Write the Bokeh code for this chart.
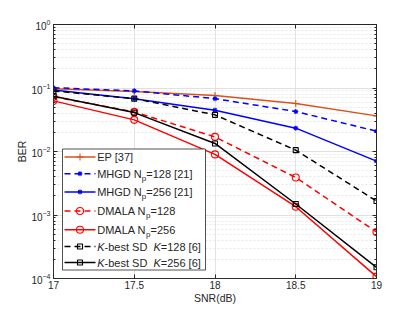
from bokeh.plotting import figure
from bokeh.models import (Range1d, LinearScale, LinearAxis, LogAxis, FixedTicker,
                          LogTicker, ColumnDataSource)
from bokeh.core.properties import value
from bokeh.embed import file_html
from bokeh.resources import INLINE

# ---------------- data ----------------
snr = [17, 17.5, 18, 18.5, 19]
ber_ep = [0.097, 0.088, 0.076, 0.057, 0.0364]
ber_mhgd128 = [0.101, 0.090, 0.068, 0.0426, 0.0209]
ber_mhgd256 = [0.093, 0.068, 0.0447, 0.0233, 0.00706]
ber_dmala128 = [0.073, 0.042, 0.017, 0.0039, 0.00054]
ber_dmala256 = [0.0627, 0.0315, 0.009, 0.00135, 0.000107]
ber_kbest128 = [0.090, 0.068, 0.0378, 0.0105, 0.00166]
ber_kbest256 = [0.074, 0.041, 0.0134, 0.00149, 0.00015]

x_ticks = [17, 17.5, 18, 18.5, 19]
x_tick_labels = ["17", "17.5", "18", "18.5", "19"]

legend_labels = [
    [("EP [37]", "n")],
    [("MHGD N", "n"), ("p", "sub"), ("=128 [21]", "n")],
    [("MHGD N", "n"), ("p", "sub"), ("=256 [21]", "n")],
    [("DMALA N", "n"), ("p", "sub"), ("=128", "n")],
    [("DMALA N", "n"), ("p", "sub"), ("=256", "n")],
    [("K", "it"), ("-best SD  ", "n"), ("K", "it"), ("=128 [6]", "n")],
    [("K", "it"), ("-best SD  ", "n"), ("K", "it"), ("=256 [6]", "n")],
]

# ---------------- styles ----------------
FONT = "Liberation Sans"
ORANGE = "#D95319"
BLUE = "#0000FF"
RED = "#FF0000"
BLACK = "#000000"
AXC = "#262626"

series = [
    (ber_ep, ORANGE, "solid", "cross", 7),
    (ber_mhgd128, BLUE, "6 4", "asterisk", 5),
    (ber_mhgd256, BLUE, "solid", "asterisk", 5),
    (ber_dmala128, RED, "6 4", "circle", 7),
    (ber_dmala256, RED, "solid", "circle", 7),
    (ber_kbest128, BLACK, "6 4", "square", 5),
    (ber_kbest256, BLACK, "solid", "square", 5),
]

FW, FH = 323, 254

p = figure(frame_width=FW, frame_height=FH, y_axis_type="log",
           x_range=Range1d(17, 19), y_range=Range1d(1e-4, 1),
           output_backend="svg", toolbar_location=None,
           min_border_left=53, min_border_right=37, min_border_top=24,
           min_border_bottom=32)
p.outline_line_color = AXC
p.outline_line_width = 0.8
p.background_fill_color = "white"

# axes
xt = FixedTicker(ticks=x_ticks)
p.xaxis.ticker = xt
p.xaxis.major_label_overrides = {t: s for t, s in zip(x_ticks, x_tick_labels)}
p.yaxis.ticker = LogTicker(desired_num_ticks=5, num_minor_ticks=10)
for ax in (p.xaxis[0], p.yaxis[0]):
    ax.axis_line_color = AXC
    ax.axis_line_width = 0.8
    ax.major_tick_in = 4
    ax.major_tick_out = 0
    ax.minor_tick_in = 2
    ax.minor_tick_out = 0
    ax.major_tick_line_color = AXC
    ax.minor_tick_line_color = AXC
    ax.major_label_text_font = FONT
    ax.major_label_text_font_size = "10px"
    ax.major_label_text_color = AXC
    ax.axis_label_text_font = FONT
    ax.axis_label_text_font_size = "10.5px"
    ax.axis_label_text_font_style = "normal"
    ax.axis_label_text_color = AXC
p.xaxis.minor_tick_line_color = None
p.xaxis.axis_label = "SNR(dB)"
p.yaxis.axis_label = "BER"
p.xaxis.major_label_standoff = 2
p.xaxis.axis_label_standoff = 0
p.yaxis.major_label_standoff = 3
p.yaxis.axis_label_standoff = 0

top = LinearAxis(ticker=xt, major_label_text_color=None, major_tick_in=4,
                 major_tick_out=0, minor_tick_line_color=None, axis_line_color=AXC,
                 major_tick_line_color=AXC, major_label_standoff=0,
                 major_label_text_font_size="10px")
right = LogAxis(ticker=LogTicker(desired_num_ticks=5, num_minor_ticks=10),
                major_label_text_color=None, major_tick_in=4, major_tick_out=0,
                minor_tick_in=2, minor_tick_out=0, axis_line_color=AXC,
                major_tick_line_color=AXC, minor_tick_line_color=AXC,
                major_label_standoff=0, major_label_text_font_size="10px")
p.add_layout(top, "above")
p.add_layout(right, "right")

# grids
p.xgrid.grid_line_color = "#dcdcdc"
p.xgrid.grid_line_width = 0.8
p.ygrid.grid_line_color = "#dcdcdc"
p.ygrid.grid_line_width = 0.8
p.ygrid.minor_grid_line_color = "#e2e2e2"
p.ygrid.minor_grid_line_dash = "2 2"
p.ygrid.minor_grid_line_width = 0.8

# data
for vals, col, dash, mk, sz in series:
    p.line(snr, vals, line_color=col, line_dash=dash, line_width=1.5)
    p.scatter(snr, vals, marker=mk, size=sz, line_color=col, fill_color=None,
              line_width=1.1)

# ---------------- legend (frame pixel coordinates) ----------------
p.extra_x_ranges = {"lx": Range1d(0, FW)}
p.extra_y_ranges = {"ly": Range1d(FH, 0)}
p.extra_x_scales = {"lx": LinearScale()}
p.extra_y_scales = {"ly": LinearScale()}

box_l, box_r, box_t, box_b = 9, 152, 124.5, 245.5
p.quad(left=[box_l], right=[box_r], top=[box_t], bottom=[box_b],
       fill_color="white", line_color=AXC, line_width=0.8,
       x_range_name="lx", y_range_name="ly")

row_y = [132.5, 149.2, 167.4, 186.5, 205.2, 222.0, 238.0]
ln_x0, ln_x1, mk_x, tx0 = 11, 42, 26.5, 43.7

AW = {" ": 278, "[": 278, "]": 278, "=": 584, "-": 333, "A": 667, "D": 722,
      "E": 667, "G": 778, "H": 722, "K": 667, "L": 556, "M": 833, "N": 722,
      "P": 667, "S": 667, "b": 556, "e": 556, "p": 556, "s": 500, "t": 278}
for d in "0123456789":
    AW[d] = 556

def tw(s, size):
    return sum(AW.get(c, 556) for c in s) * size / 1000.0

tx, ty, tt, tsz, tst = [], [], [], [], []
for (vals, col, dash, mk, sz), y, segs in zip(series, row_y, legend_labels):
    p.line([ln_x0, ln_x1], [y, y], line_color=col, line_dash=dash, line_width=1.5,
           x_range_name="lx", y_range_name="ly")
    p.scatter([mk_x], [y], marker=mk, size=sz, line_color=col, fill_color=None,
              line_width=1.1, x_range_name="lx", y_range_name="ly")
    x = tx0
    for s, st in segs:
        size = 8 if st == "sub" else 11
        tx.append(x)
        ty.append(y + 4.5 if st == "sub" else y)
        tt.append(s)
        tsz.append(f"{size}px")
        tst.append("italic" if st == "it" else "normal")
        x += tw(s, size)

src = ColumnDataSource(dict(x=tx, y=ty, text=tt, size=tsz, style=tst))
p.text(x="x", y="y", text="text", source=src, text_font=value(FONT),
       text_font_size="size", text_font_style="style", text_color=AXC,
       text_baseline="middle", text_align="left",
       x_range_name="lx", y_range_name="ly")

open("out.html", "w").write(file_html(p, INLINE))
